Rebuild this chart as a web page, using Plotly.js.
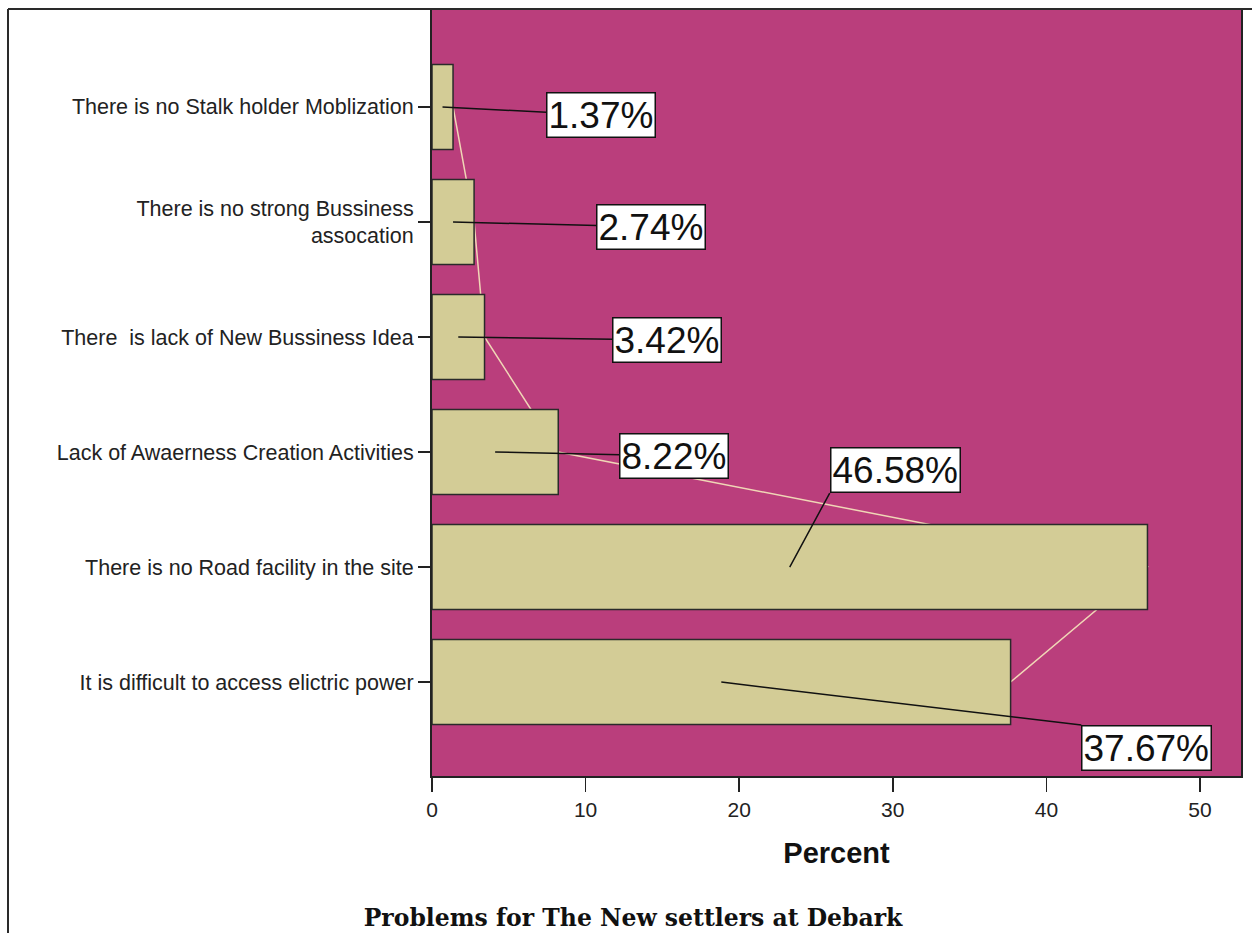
<!DOCTYPE html>
<html>
<head>
<meta charset="utf-8">
<script src="https://cdn.plot.ly/plotly-3.0.1.min.js"></script>
<style>
  html, body { margin: 0; padding: 0; background: #ffffff; }
  #chart { width: 1252px; height: 933px; }
</style>
</head>
<body>
<div id="chart"></div>
<script>
// ---- data ----
const categories = [
  "There is no Stalk holder Moblization",
  "There is no strong Bussiness<br>assocation",
  "There  is lack of New Bussiness Idea",
  "Lack of Awaerness Creation Activities",
  "There is no Road facility in the site",
  "It is difficult to access elictric power"
];
const percentValues = [1.37, 2.74, 3.42, 8.22, 46.58, 37.67];
const xTickValues = [0, 10, 20, 30, 40, 50];
const xTickLabels = ["0", "10", "20", "30", "40", "50"];
const chartTitle = "Problems for The New settlers at Debark";
const xAxisTitle = "Percent";

// ---- label placement (layout only, pixel offsets) ----
const labelAx = [158, 198, 209, 179, 40, 360];
const labelAy = [8, 5, 3, 4, -74, 43];
const labelXAnchor = ["center", "center", "center", "center", "left", "left"];
const labelYAnchor = ["middle", "middle", "middle", "middle", "bottom", "top"];

const idx = categories.map((c, i) => i);

const barTrace = {
  type: "bar",
  orientation: "h",
  x: percentValues,
  y: idx,
  width: 0.74,
  marker: { color: "#D3CC96", line: { color: "#2a2a2a", width: 1.5 } },
  hoverinfo: "x+y",
  showlegend: false
};

const connectorPath = "M " + percentValues.map((v, i) => v + "," + i).join(" L ");

const annotations = percentValues.map((v, i) => ({
  xref: "x", yref: "y",
  x: v / 2, y: i,
  text: v.toFixed(2) + "%",
  showarrow: true,
  arrowhead: 0,
  arrowwidth: 1.5,
  arrowcolor: "#111111",
  standoff: 0,
  ax: labelAx[i], ay: labelAy[i],
  xanchor: labelXAnchor[i], yanchor: labelYAnchor[i],
  bgcolor: "#ffffff",
  bordercolor: "#111111",
  borderwidth: 1.5,
  borderpad: 1,
  font: { family: "Liberation Sans, Arial, sans-serif", size: 37, color: "#111111" }
}));

const layout = {
  width: 1252, height: 933,
  margin: { l: 432, r: 11, t: 10, b: 157 },
  paper_bgcolor: "#ffffff",
  plot_bgcolor: "#BA3E7C",
  showlegend: false,
  font: { family: "Liberation Sans, Arial, sans-serif", color: "#222222" },
  title: {
    text: chartTitle,
    font: { family: "DejaVu Serif, serif", size: 23.5, weight: "bold", color: "#111111" },
    xref: "container", yref: "container",
    x: 0.5056, xanchor: "center",
    y: 0.016, yanchor: "middle"
  },
  xaxis: {
    range: [0, 52.67],
    tickvals: xTickValues,
    ticktext: xTickLabels,
    ticks: "outside", ticklen: 14, tickwidth: 1.5, tickcolor: "#222222",
    tickfont: { size: 21, color: "#222222" },
    showgrid: false, zeroline: false,
    showline: true, linecolor: "#222222", linewidth: 2, mirror: true,
    title: { text: xAxisTitle, font: { size: 29, weight: "bold", color: "#111111" }, standoff: 22 }
  },
  yaxis: {
    range: [5.817, -0.843],
    tickvals: idx,
    ticktext: categories,
    ticks: "outside", ticklen: 12, tickwidth: 2, tickcolor: "#222222",
    tickfont: { size: 21.5, color: "#222222" },
    showgrid: false, zeroline: false,
    showline: true, linecolor: "#222222", linewidth: 2, mirror: true
  },
  shapes: [
    { type: "path", xref: "x", yref: "y", path: connectorPath, layer: "below",
      line: { color: "#F0D6B6", width: 1.5 } },
    { type: "line", xref: "paper", yref: "paper", x0: -0.5241, x1: -0.5241, y0: -0.3, y1: 1.0013,
      line: { color: "#2a2a2a", width: 2 } },
    { type: "line", xref: "paper", yref: "paper", x0: -0.5241, x1: 1.1, y0: 1.0013, y1: 1.0013,
      line: { color: "#2a2a2a", width: 2 } }
  ],
  annotations: annotations
};

Plotly.newPlot("chart", [barTrace], layout, { displayModeBar: false, staticPlot: true });
</script>
</body>
</html>
